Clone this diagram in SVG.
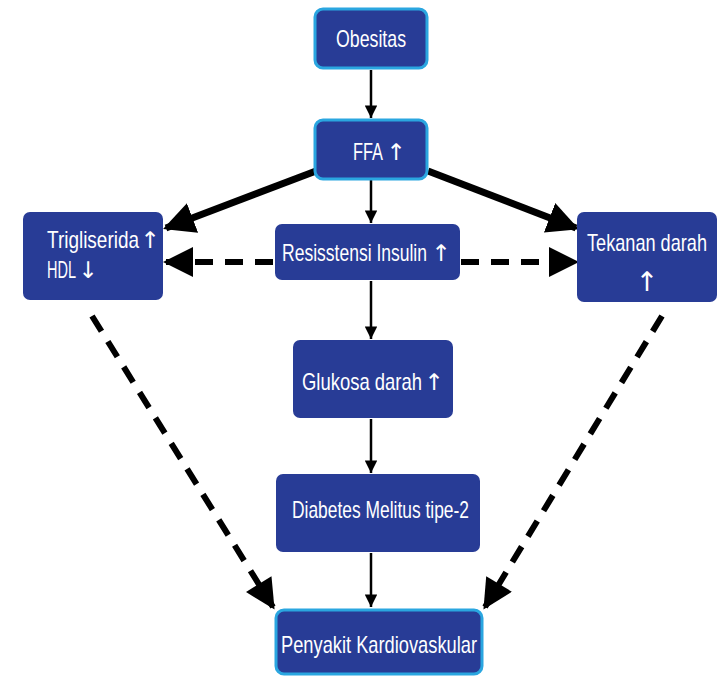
<svg xmlns="http://www.w3.org/2000/svg" width="720" height="677" viewBox="0 0 720 677">
<style>
.box{fill:#283c96;}
.hl{stroke:#2aa6e0;stroke-width:3;}
.t{fill:#fff;font-family:"Liberation Sans",Arial,sans-serif;font-size:24px;}
.ar{fill:#fff;font-family:"DejaVu Sans",sans-serif;font-size:23px;text-anchor:middle;}
.thin{stroke:#000;stroke-width:2.5;fill:none;}
.thick{stroke:#000;stroke-width:7;fill:none;}
.dash{stroke:#000;stroke-width:6;fill:none;stroke-dasharray:18 12;}
</style>
<defs>
<marker id="ah" viewBox="0 0 10 10" refX="10" refY="5" markerWidth="8" markerHeight="5" markerUnits="strokeWidth" orient="auto">
<path d="M0,0 L10,5 L0,10 z" fill="#000"/>
</marker>
<marker id="ahb" viewBox="0 0 10 10" refX="9" refY="5" markerWidth="4.5" markerHeight="4.5" markerUnits="strokeWidth" orient="auto">
<path d="M0,0 L10,5 L0,10 z" fill="#000"/>
</marker>
<marker id="ahd" viewBox="0 0 10 10" refX="9" refY="5" markerWidth="5.5" markerHeight="5" markerUnits="strokeWidth" orient="auto">
<path d="M0,0 L10,5 L0,10 z" fill="#000"/>
</marker>
</defs>
<rect width="720" height="677" fill="#fff"/>
<g id="connectors">
<line class="thin" x1="371" y1="70" x2="371" y2="118" marker-end="url(#ah)"/>
<line class="thin" x1="371" y1="179" x2="371" y2="223" marker-end="url(#ah)"/>
<line class="thin" x1="371" y1="281" x2="371" y2="339" marker-end="url(#ah)"/>
<line class="thin" x1="371" y1="419" x2="371" y2="473" marker-end="url(#ah)"/>
<line class="thin" x1="371" y1="553" x2="371" y2="607" marker-end="url(#ah)"/>
<line class="thick" x1="316" y1="171" x2="166" y2="228" marker-end="url(#ahb)"/>
<line class="thick" x1="428" y1="171" x2="576" y2="228" marker-end="url(#ahb)"/>
<line class="dash" x1="273" y1="262" x2="166" y2="262" marker-end="url(#ahd)"/>
<line class="dash" x1="461" y1="262" x2="576" y2="262" marker-end="url(#ahd)"/>
<line class="dash" x1="92" y1="316" x2="273" y2="607" marker-end="url(#ahd)"/>
<line class="dash" x1="662" y1="316" x2="485" y2="607" marker-end="url(#ahd)"/>
</g>
<g id="obesitas">
<rect class="box hl" x="315" y="9" width="112" height="59" rx="8"/>
<text class="t" x="336" y="47" textLength="70" lengthAdjust="spacingAndGlyphs">Obesitas</text>
</g>
<g id="ffa">
<rect class="box hl" x="315" y="120" width="112" height="59" rx="8"/>
<text class="t" x="353" y="160" textLength="30" lengthAdjust="spacingAndGlyphs">FFA</text>
<text class="ar" x="396" y="160">↑</text>
</g>
<g id="trigliserida">
<rect class="box" x="23" y="212" width="140" height="88" rx="7"/>
<text class="t" x="47" y="248" textLength="92" lengthAdjust="spacingAndGlyphs">Trigliserida</text>
<text class="ar" x="150" y="248">↑</text>
<text class="t" x="47" y="278" textLength="29" lengthAdjust="spacingAndGlyphs">HDL</text>
<text class="ar" x="88" y="278">↓</text>
</g>
<g id="resistensi">
<rect class="box" x="275" y="224" width="185" height="56" rx="7"/>
<text class="t" x="282" y="261" textLength="145" lengthAdjust="spacingAndGlyphs">Resisstensi Insulin</text>
<text class="ar" x="441" y="261">↑</text>
</g>
<g id="tekanan">
<rect class="box" x="577" y="212" width="140" height="90" rx="7"/>
<text class="t" x="587" y="251" textLength="120" lengthAdjust="spacingAndGlyphs">Tekanan darah</text>
<text class="ar" x="647" y="291" style="font-size:27px">↑</text>
</g>
<g id="glukosa">
<rect class="box" x="293" y="340" width="160" height="78" rx="7"/>
<text class="t" x="302" y="390" textLength="120" lengthAdjust="spacingAndGlyphs">Glukosa darah</text>
<text class="ar" x="434" y="390">↑</text>
</g>
<g id="diabetes">
<rect class="box" x="276" y="474" width="204" height="78" rx="7"/>
<text class="t" x="292" y="518" textLength="177" lengthAdjust="spacingAndGlyphs">Diabetes Melitus tipe-2</text>
</g>
<g id="penyakit">
<rect class="box hl" x="276" y="610" width="206" height="64" rx="8"/>
<text class="t" x="281" y="653" textLength="196" lengthAdjust="spacingAndGlyphs">Penyakit Kardiovaskular</text>
</g>
</svg>
